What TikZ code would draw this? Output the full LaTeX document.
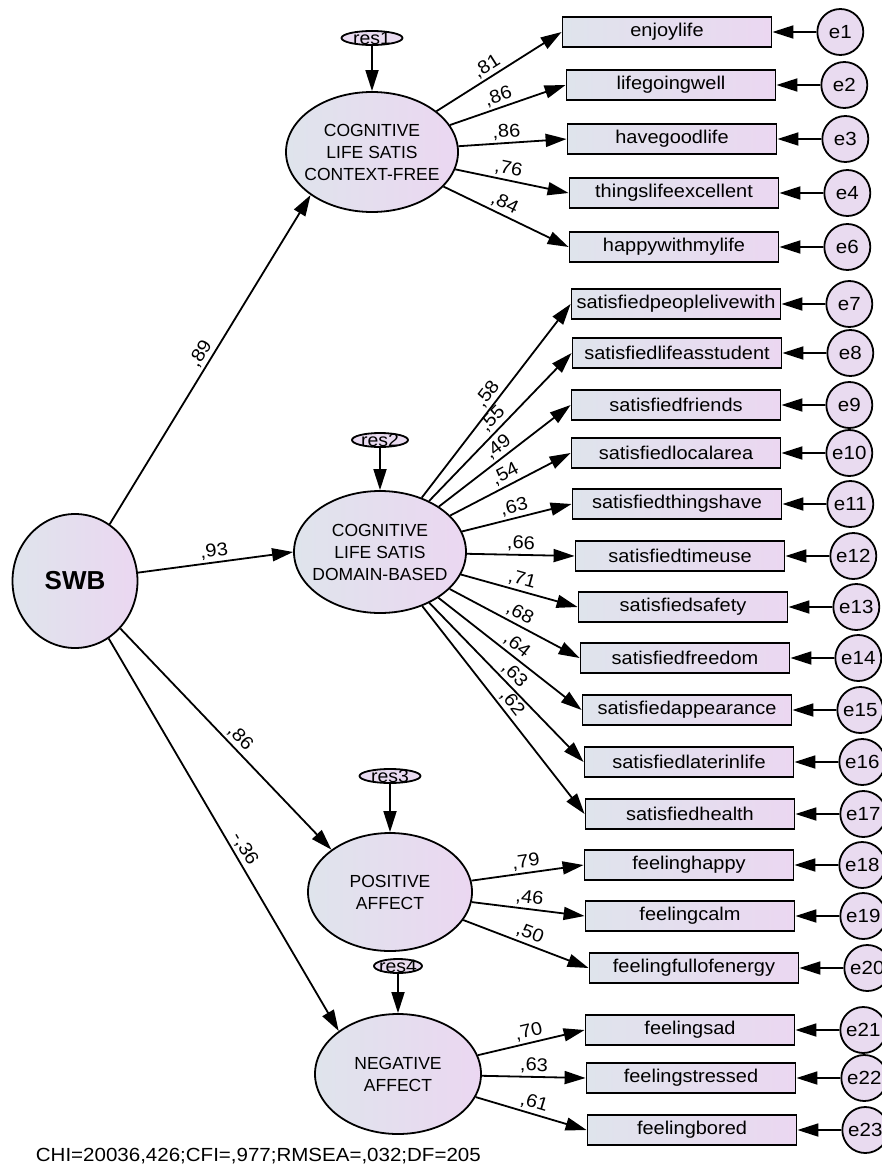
\documentclass[tikz,border=0pt]{standalone}
\usepackage{fontspec}
\setmainfont{Liberation Sans}[FakeStretch=1.08]
\newfontfamily\latfont{Liberation Sans}
\usetikzlibrary{shapes.geometric,positioning,arrows.meta}
\definecolor{lblue}{HTML}{DFE4EC}
\definecolor{lpink}{HTML}{EBD7F1}
\definecolor{epink}{HTML}{E9DBF0}

\begin{document}
\begin{tikzpicture}[
  x=1pt, y=-1pt, line width=1.8pt,
  >={Triangle[length=21pt,width=13pt]},
  latent/.style={draw, ellipse, left color=lblue, right color=lpink, inner sep=0pt},
  lattxt/.style={align=center, font=\latfont\fontsize{17.5}{22}\selectfont},
  obs/.style={draw, rectangle, left color=lblue, right color=lpink, minimum width=209pt, minimum height=30pt, inner sep=0pt, font=\fontsize{18.5}{19}\selectfont},
  err/.style={draw, circle, fill=epink, minimum size=46pt, inner sep=0pt, font=\fontsize{19}{19}\selectfont},
  res/.style={draw, ellipse, fill=epink, minimum width=58pt, minimum height=14pt, inner sep=0pt},
  restxt/.style={font=\fontsize{18}{18}\selectfont},
  lbl/.style={font=\fontsize{18.5}{18.5}\selectfont, inner sep=2.5pt},
]
\useasboundingbox (0,0) rectangle (881,1169);

% latent variables
\node[latent, minimum width=125pt, minimum height=134pt, font=\latfont\bfseries\fontsize{26}{26}\selectfont] (swb) at (75,581) {SWB};
\node[latent, minimum width=172pt, minimum height=120pt, label={[lattxt]center:COGNITIVE\\LIFE SATIS\\CONTEXT-FREE}] (ctx) at (372,152) {};
\node[latent, minimum width=172pt, minimum height=122pt, label={[lattxt]center:COGNITIVE\\LIFE SATIS\\DOMAIN-BASED}] (dom) at (380,552) {};
\node[latent, minimum width=164pt, minimum height=118pt, label={[lattxt]center:POSITIVE\\AFFECT}] (pos) at (390,892) {};
\node[latent, minimum width=166pt, minimum height=120pt, label={[lattxt]center:NEGATIVE\\AFFECT}] (neg) at (398,1074) {};

% residuals
\node[res, minimum width=61pt, label={[restxt]center:res1}] (res1) at (372,38) {};
\node[res, minimum width=56pt, label={[restxt]center:res2}] (res2) at (380,440) {};
\node[res, minimum width=61pt, label={[restxt]center:res3}] (res3) at (390,776) {};
\node[res, minimum width=48pt, label={[restxt]center:res4}] (res4) at (398,966) {};

% indicators
\node[obs] (enjoylife) at (667,32) {enjoylife};
\node[obs] (lifegoingwell) at (671,85) {lifegoingwell};
\node[obs] (havegoodlife) at (672,139) {havegoodlife};
\node[obs] (thingslifeexcellent) at (674,193) {thingslifeexcellent};
\node[obs] (happywithmylife) at (674,247) {happywithmylife};
\node[obs] (peoplelivewith) at (676,304) {satisfiedpeoplelivewith};
\node[obs] (lifeasstudent) at (677,353) {satisfiedlifeasstudent};
\node[obs] (friends) at (676,405) {satisfiedfriends};
\node[obs] (localarea) at (676,453) {satisfiedlocalarea};
\node[obs] (thingshave) at (677,504) {satisfiedthingshave};
\node[obs] (timeuse) at (680,556) {satisfiedtimeuse};
\node[obs] (safety) at (683,607) {satisfiedsafety};
\node[obs] (freedom) at (685,658) {satisfiedfreedom};
\node[obs] (appearance) at (687,710) {satisfiedappearance};
\node[obs] (laterinlife) at (689,762) {satisfiedlaterinlife};
\node[obs] (health) at (690,814) {satisfiedhealth};
\node[obs] (happy) at (689,865) {feelinghappy};
\node[obs] (calm) at (690,916) {feelingcalm};
\node[obs] (energy) at (694,968) {feelingfullofenergy};
\node[obs] (sad) at (690,1030) {feelingsad};
\node[obs] (stressed) at (691,1078) {feelingstressed};
\node[obs] (bored) at (692,1130) {feelingbored};

% error terms
\node[err, right=44pt of enjoylife] (e1) {e1};
\node[err, right=44pt of lifegoingwell] (e2) {e2};
\node[err, right=44pt of havegoodlife] (e3) {e3};
\node[err, right=44pt of thingslifeexcellent] (e4) {e4};
\node[err, right=44pt of happywithmylife] (e6) {e6};
\node[err, right=44pt of peoplelivewith] (e7) {e7};
\node[err, right=44pt of lifeasstudent] (e8) {e8};
\node[err, right=44pt of friends] (e9) {e9};
\node[err, right=44pt of localarea] (e10) {e10};
\node[err, right=44pt of thingshave] (e11) {e11};
\node[err, right=44pt of timeuse] (e12) {e12};
\node[err, right=44pt of safety] (e13) {e13};
\node[err, right=44pt of freedom] (e14) {e14};
\node[err, right=44pt of appearance] (e15) {e15};
\node[err, right=44pt of laterinlife] (e16) {e16};
\node[err, right=44pt of health] (e17) {e17};
\node[err, right=44pt of happy] (e18) {e18};
\node[err, right=44pt of calm] (e19) {e19};
\node[err, right=44pt of energy] (e20) {e20};
\node[err, right=44pt of sad] (e21) {e21};
\node[err, right=44pt of stressed] (e22) {e22};
\node[err, right=44pt of bored] (e23) {e23};

% structural paths
\draw[->] (swb) -- (ctx.south west) node[lbl, midway, above, sloped] {,89};
\draw[->] (swb) -- (dom.west) node[lbl, midway, above, sloped] {,93};
\draw[->] (swb) -- (pos.north west) node[lbl, pos=0.53, above, sloped] {,86};
\draw[->] (swb) -- (neg.north west) node[lbl, pos=0.55, above, sloped] {-,36};
\draw[->] (res1) -- (ctx);
\draw[->] (res2) -- (dom);
\draw[->] (res3) -- (pos);
\draw[->] (res4) -- (neg);

% loadings
\draw[->] (ctx) -- (enjoylife.west) node[lbl, pos=0.45, above, sloped] {,81};
\draw[->] (ctx) -- (lifegoingwell.west) node[lbl, pos=0.45, above, sloped] {,86};
\draw[->] (ctx) -- (havegoodlife.west) node[lbl, pos=0.45, above, sloped] {,86};
\draw[->] (ctx) -- (thingslifeexcellent.west) node[lbl, pos=0.45, above, sloped] {,76};
\draw[->] (ctx) -- (happywithmylife.west) node[lbl, pos=0.45, above, sloped] {,84};
\draw[->] (dom) -- (peoplelivewith.west) node[lbl, pos=0.5, above, sloped] {,58};
\draw[->] (dom) -- (lifeasstudent.west) node[lbl, pos=0.5, above, sloped] {,55};
\draw[->] (dom) -- (friends.west) node[lbl, pos=0.5, above, sloped] {,49};
\draw[->] (dom) -- (localarea.west) node[lbl, pos=0.5, above, sloped] {,54};
\draw[->] (dom) -- (thingshave.west) node[lbl, pos=0.5, above, sloped] {,63};
\draw[->] (dom) -- (timeuse.west) node[lbl, pos=0.5, above, sloped] {,66};
\draw[->] (dom) -- (safety.west) node[lbl, pos=0.5, above, sloped] {,71};
\draw[->] (dom) -- (freedom.west) node[lbl, pos=0.5, above, sloped] {,68};
\draw[->] (dom) -- (appearance.west) node[lbl, pos=0.5, above, sloped] {,64};
\draw[->] (dom) -- (laterinlife.west) node[lbl, pos=0.5, above, sloped] {,63};
\draw[->] (dom) -- (health.west) node[lbl, pos=0.5, above, sloped] {,62};
\draw[->] (pos) -- (happy.west) node[lbl, pos=0.5, above, sloped] {,79};
\draw[->] (pos) -- (calm.west) node[lbl, pos=0.5, above, sloped] {,46};
\draw[->] (pos) -- (energy.west) node[lbl, pos=0.5, above, sloped] {,50};
\draw[->] (neg) -- (sad.west) node[lbl, pos=0.5, above, sloped] {,70};
\draw[->] (neg) -- (stressed.west) node[lbl, pos=0.5, above, sloped] {,63};
\draw[->] (neg) -- (bored.west) node[lbl, pos=0.5, above, sloped] {,61};

% error paths
\draw[->] (e1) -- (enjoylife);
\draw[->] (e2) -- (lifegoingwell);
\draw[->] (e3) -- (havegoodlife);
\draw[->] (e4) -- (thingslifeexcellent);
\draw[->] (e6) -- (happywithmylife);
\draw[->] (e7) -- (peoplelivewith);
\draw[->] (e8) -- (lifeasstudent);
\draw[->] (e9) -- (friends);
\draw[->] (e10) -- (localarea);
\draw[->] (e11) -- (thingshave);
\draw[->] (e12) -- (timeuse);
\draw[->] (e13) -- (safety);
\draw[->] (e14) -- (freedom);
\draw[->] (e15) -- (appearance);
\draw[->] (e16) -- (laterinlife);
\draw[->] (e17) -- (health);
\draw[->] (e18) -- (happy);
\draw[->] (e19) -- (calm);
\draw[->] (e20) -- (energy);
\draw[->] (e21) -- (sad);
\draw[->] (e22) -- (stressed);
\draw[->] (e23) -- (bored);

% fit indices
\node[anchor=west, inner sep=0pt, font=\fontsize{19}{19}\selectfont] (fit) at (35,1156) {CHI=20036,426;CFI=,977;RMSEA=,032;DF=205};
\end{tikzpicture}
\end{document}
